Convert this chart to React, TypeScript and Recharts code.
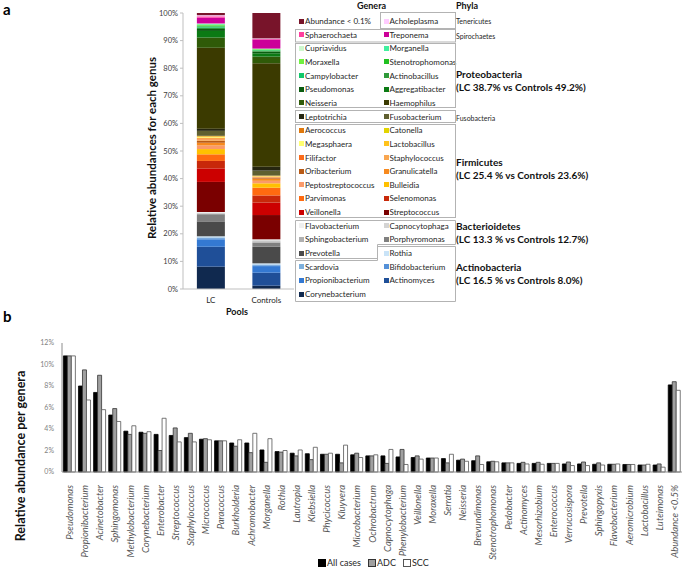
import React from 'react';
import { BarChart, Bar, XAxis, YAxis } from 'recharts';

// ---------- panel a: pooled genus composition ----------
const pools = ['LC', 'Controls'];

// bottom of the stack first
const genera = [
  'Corynebacterium', 'Actinomyces', 'Propionibacterium', 'Bifidobacterium', 'Scardovia', 'Rothia',
  'Prevotella', 'Porphyromonas', 'Sphingobacterium', 'Capnocytophaga', 'Flavobacterium',
  'Streptococcus', 'Veillonella', 'Selenomonas', 'Parvimonas', 'Bulleidia', 'Peptostreptococcus',
  'Granulicatella', 'Oribacterium', 'Staphylococcus', 'Filifactor', 'Lactobacillus', 'Megasphaera',
  'Catonella', 'Aerococcus', 'Fusobacterium', 'Leptotrichia', 'Haemophilus', 'Neisseria',
  'Aggregatibacter', 'Pseudomonas', 'Actinobacillus', 'Campylobacter', 'Stenotrophomonas',
  'Moraxella', 'Morganella', 'Cupriavidus', 'Treponema', 'Sphaerochaeta', 'Acholeplasma',
  'Abundance < 0.1%',
];

const lcShare = [
  8.1, 7.2, 2.7, 0.4, 0.3, 0.4,
  5.4, 2.6, 0.3, 0.3, 0.2,
  10.9, 4.9, 2.7, 2.4, 1.9, 1.3, 1.0, 0.7, 0.5, 0.4, 0.3, 0.2, 0.2, 0.2,
  1.8, 0.8,
  29.3, 3.7, 2.4, 0.7, 0.5, 0.4, 0.4, 0.3, 0.2, 0.2,
  2.1, 0.5, 0.4, 0.8,
];

const controlShare = [
  1.2, 4.7, 2.4, 0.3, 0.3, 0.4,
  6.0, 1.5, 0.5, 0.4, 0.3,
  8.8, 4.5, 2.6, 2.8, 1.6, 0.9, 0.8, 0.3, 0.2, 0.2, 0.1, 0.1, 0.1, 0.1,
  1.8, 1.4,
  37.5, 2.4, 1.2, 0.6, 0.3, 0.2, 0.2, 0.2, 0.1, 0.1,
  3.3, 0.2, 0.2, 9.2,
];

const generaColors = [
  '#10294f', '#1f4f98', '#3479d2', '#5591d8', '#7eb0dc', '#c9e3f7',
  '#4a4a4a', '#808080', '#b0b0b0', '#d4d4d4', '#efefef',
  '#7a0000', '#cc0000', '#c8280a', '#ff6a10', '#ffc000', '#fa9a6a',
  '#f7891e', '#b85a16', '#f9a650', '#fa6a1a', '#ffc21a', '#ffff70',
  '#e2d400', '#e0780c', '#5f5f30', '#262610', '#3b3a00', '#2f5a08',
  '#0b7a14', '#0a5c10', '#2f9a3a', '#10c86a', '#20c020',
  '#70f040', '#40f0a0', '#cdf7cd', '#cc0099', '#ff3d9e', '#ffccff',
  '#78142a',
];

const phylaNotes = [
  { name: 'Tenericutes', y: 21, big: false },
  { name: 'Spirochaetes', y: 36, big: false },
  { name: 'Proteobacteria', sub: '(LC 38.7% vs Controls 49.2%)', y: 74, big: true },
  { name: 'Fusobacteria', y: 118, big: false },
  { name: 'Firmicutes', sub: '(LC 25.4 % vs Controls 23.6%)', y: 162, big: true },
  { name: 'Bacterioidetes', sub: '(LC 13.3 % vs Controls 12.7%)', y: 226, big: true },
  { name: 'Actinobacteria', sub: '(LC 16.5 % vs Controls 8.0%)', y: 267, big: true },
];

// ---------- panel b: genera by histology ----------
const bGenera = [
  'Pseudomonas', 'Propionibacterium', 'Acinetobacter', 'Sphingomonas', 'Methylobacterium',
  'Corynebacterium', 'Enterobacter', 'Streptococcus', 'Staphylococcus', 'Micrococcus',
  'Paracoccus', 'Burkholderia', 'Achromobacter', 'Morganella', 'Rothia', 'Lautropia',
  'Klebsiella', 'Phycicoccus', 'Kluyvera', 'Microbacterium', 'Ochrobactrum', 'Capnocytophaga',
  'Phenylobacterium', 'Veillonella', 'Moraxella', 'Serratia', 'Neisseria', 'Brevundimonas',
  'Stenotrophomonas', 'Pedobacter', 'Actinomyces', 'Mesorhizobium', 'Enterococcus',
  'Verrucosispora', 'Prevotella', 'Sphingopyxis', 'Flavobacterium', 'Aeromicrobium',
  'Lactobacillus', 'Luteimonas', 'Abundance <0.5%',
];

const allCases = [
  10.8, 8.0, 7.4, 5.3, 3.8, 3.7, 3.5, 3.4, 3.2, 3.05, 2.9, 2.7, 2.7, 2.05, 1.9, 1.75, 1.7,
  1.65, 1.65, 1.6, 1.5, 1.5, 1.4, 1.35, 1.3, 1.25, 1.1, 1.05, 0.95, 0.85, 0.8, 0.8, 0.8,
  0.75, 0.75, 0.72, 0.72, 0.7, 0.65, 0.65, 8.1,
];
const adcCases = [
  10.8, 9.5, 9.0, 5.9, 3.5, 3.6, 2.0, 4.1, 3.6, 3.1, 2.9, 2.4, 1.8, 0.9, 1.85, 1.5, 1.15,
  1.65, 0.85, 1.75, 1.5, 0.8, 2.1, 1.5, 1.3, 0.85, 1.2, 1.5, 1.0, 0.85, 0.9, 0.9, 0.8,
  0.93, 0.93, 0.85, 0.72, 0.7, 0.65, 0.75, 8.4,
];
const sccCases = [
  10.8, 6.7, 5.8, 4.7, 4.3, 3.75, 5.0, 2.8, 2.8, 3.0, 2.9, 3.0, 3.6, 3.1, 2.0, 2.05, 2.3,
  1.75, 2.5, 1.35, 1.6, 2.1, 0.7, 1.2, 1.3, 1.65, 1.0, 0.7, 0.95, 0.85, 0.75, 0.72, 0.8,
  0.6, 0.6, 0.65, 0.75, 0.7, 0.72, 0.45, 7.6,
];

const pctTicksA = [0, 10, 20, 30, 40, 50, 60, 70, 80, 90, 100];
const pctTicksB = [0, 2, 4, 6, 8, 10, 12];

const poolData = pools.map((pool, p) => {
  const row: Record<string, string | number> = { pool };
  genera.forEach((g, i) => {
    row[g] = p === 0 ? lcShare[i] : controlShare[i];
  });
  return row;
});

const histData = bGenera.map((genus, i) => ({
  genus,
  all: allCases[i],
  adc: adcCases[i],
  scc: sccCases[i],
}));

const FONT = 'Lato, "Open Sans", sans-serif';

function Txt({ x, y, size = 8, bold = false, italic = false, color = '#262626', children }: any) {
  return (
    <div
      style={{
        position: 'absolute',
        left: x,
        top: y,
        transform: 'translateY(-50%)',
        fontSize: size,
        fontWeight: bold ? 700 : 400,
        fontStyle: italic ? 'italic' : 'normal',
        color,
        whiteSpace: 'nowrap',
        lineHeight: 1,
      }}
    >
      {children}
    </div>
  );
}

function VTitle({ cx, cy, size, children }: any) {
  return (
    <div
      style={{
        position: 'absolute',
        left: cx,
        top: cy,
        transform: 'translate(-50%, -50%) rotate(-90deg)',
        fontSize: size,
        fontWeight: 700,
        color: '#111',
        whiteSpace: 'nowrap',
        lineHeight: 1,
      }}
    >
      {children}
    </div>
  );
}

function GenusTick({ x, y, payload }: any) {
  return (
    <text
      transform={`translate(${x + 3.5},${y + 5}) rotate(-90)`}
      textAnchor="end"
      fontSize={9.5}
      fontStyle="italic"
      fill="#595959"
    >
      {payload.value}
    </text>
  );
}

function GeneraLegend() {
  const legendOrder = [...genera].reverse();
  const colorOrder = [...generaColors].reverse();
  return (
    <>
      {legendOrder.map((g, i) => {
        const row = Math.floor(i / 2);
        const col = i % 2;
        const cy = 21 + row * 13.65;
        const left = col === 0 ? 299 : 383.5;
        return (
          <React.Fragment key={g}>
            <div
              style={{
                position: 'absolute',
                left,
                top: cy - 2.5,
                width: 5,
                height: 5,
                background: colorOrder[i],
              }}
            />
            <Txt x={left + 6} y={cy} size={8}>
              {g}
            </Txt>
          </React.Fragment>
        );
      })}
      <svg
        width={685}
        height={320}
        style={{ position: 'absolute', left: 0, top: 0, pointerEvents: 'none' }}
      >
        <g fill="none" stroke="#b3b3b3" strokeWidth={1}>
          <rect x={380.5} y={12.5} width={75} height={16} />
          <rect x={295.5} y={29.5} width={160} height={12.5} />
          <rect x={295.5} y={43.5} width={160} height={64} />
          <rect x={295.5} y={110.5} width={160} height={12} />
          <rect x={295.5} y={124.5} width={160} height={93} />
          <path d="M295.5,220.5 H455.5 V244.5 H377.5 V258.5 H295.5 Z" />
          <path d="M377.5,246.5 H455.5 V301.5 H295.5 V260.5 H377.5 Z" />
        </g>
      </svg>
    </>
  );
}

export default function App() {
  return (
    <div
      style={{
        position: 'absolute',
        left: 0,
        top: 0,
        width: 685,
        height: 567,
        background: '#fff',
        overflow: 'hidden',
        fontFamily: FONT,
      }}
    >
      {/* panel a */}
      <Txt x={3} y={9} size={15} bold color="#000">a</Txt>
      <VTitle cx={152} cy={148} size={11.5}>Relative abundances for each genus</VTitle>
      <div style={{ position: 'absolute', left: 140, top: 0 }}>
        <BarChart
          width={160}
          height={320}
          data={poolData}
          margin={{ top: 13, right: 6, left: 0, bottom: 0 }}
          barCategoryGap="25%"
        >
          <XAxis
            dataKey="pool"
            height={31}
            tickLine={false}
            axisLine={{ stroke: '#bfbfbf' }}
            tick={{ fontSize: 8, fill: '#262626' }}
          />
          <YAxis
            width={43}
            domain={[0, 100]}
            ticks={pctTicksA}
            interval={0}
            tickFormatter={(v) => `${v}%`}
            axisLine={{ stroke: '#bfbfbf' }}
            tickLine={{ stroke: '#bfbfbf' }}
            tickSize={3}
            tick={{ fontSize: 7.5, fill: '#404040' }}
          />
          {genera.map((g, i) => (
            <Bar key={g} dataKey={g} stackId="pool" fill={generaColors[i]} isAnimationActive={false} />
          ))}
        </BarChart>
      </div>
      <Txt x={226} y={311} size={9} bold color="#111">Pools</Txt>

      <Txt x={357} y={5} size={9} bold color="#111">Genera</Txt>
      <Txt x={456} y={5} size={9} bold color="#111">Phyla</Txt>
      <GeneraLegend />
      {phylaNotes.map((p) =>
        p.big ? (
          <React.Fragment key={p.name}>
            <Txt x={456} y={p.y} size={10} bold color="#111">{p.name}</Txt>
            <Txt x={456} y={p.y + 12.5} size={10} bold color="#111">{p.sub}</Txt>
          </React.Fragment>
        ) : (
          <Txt key={p.name} x={456} y={p.y} size={7}>{p.name}</Txt>
        )
      )}

      {/* panel b */}
      <Txt x={3} y={316} size={15} bold color="#000">b</Txt>
      <VTitle cx={21} cy={456} size={12.5}>Relative abundance per genera</VTitle>
      <div style={{ position: 'absolute', left: 0, top: 330 }}>
        <BarChart
          width={685}
          height={237}
          data={histData}
          margin={{ top: 13, right: 3, left: 0, bottom: 0 }}
          barCategoryGap="9%"
          barGap={0}
        >
          <XAxis
            dataKey="genus"
            interval={0}
            height={95}
            tickLine={false}
            axisLine={{ stroke: '#8c8c8c' }}
            tick={<GenusTick />}
          />
          <XAxis
            xAxisId="top"
            dataKey="genus"
            orientation="top"
            height={0}
            tick={false}
            tickLine={false}
            axisLine={{ stroke: '#8c8c8c' }}
          />
          <YAxis
            width={62}
            domain={[0, 12]}
            ticks={pctTicksB}
            interval={0}
            tickFormatter={(v) => `${v}%`}
            axisLine={{ stroke: '#8c8c8c' }}
            tickLine={false}
            tick={{ fontSize: 7, fill: '#7f7f7f' }}
          />
          <YAxis
            yAxisId="right"
            orientation="right"
            width={0}
            domain={[0, 12]}
            tick={false}
            tickLine={false}
            axisLine={{ stroke: '#8c8c8c' }}
          />
          <Bar dataKey="all" name="All cases" fill="#000" stroke="#000" strokeWidth={0.8} isAnimationActive={false} />
          <Bar dataKey="adc" name="ADC" fill="#a0a0a0" stroke="#333" strokeWidth={0.8} isAnimationActive={false} />
          <Bar dataKey="scc" name="SCC" fill="#fff" stroke="#555" strokeWidth={0.8} isAnimationActive={false} />
        </BarChart>
      </div>
      {/* series key */}
      <div
        style={{
          position: 'absolute',
          left: 318,
          top: 558,
          display: 'flex',
          alignItems: 'center',
          gap: 7,
          fontSize: 9,
          color: '#262626',
          lineHeight: 1,
        }}
      >
        {[
          { label: 'All cases', fill: '#000', stroke: '#000' },
          { label: 'ADC', fill: '#a0a0a0', stroke: '#333' },
          { label: 'SCC', fill: '#fff', stroke: '#555' },
        ].map((s) => (
          <span key={s.label} style={{ display: 'flex', alignItems: 'center', gap: 1 }}>
            <span
              style={{
                display: 'inline-block',
                width: 6,
                height: 6,
                background: s.fill,
                border: `1px solid ${s.stroke}`,
              }}
            />
            {s.label}
          </span>
        ))}
      </div>
    </div>
  );
}
